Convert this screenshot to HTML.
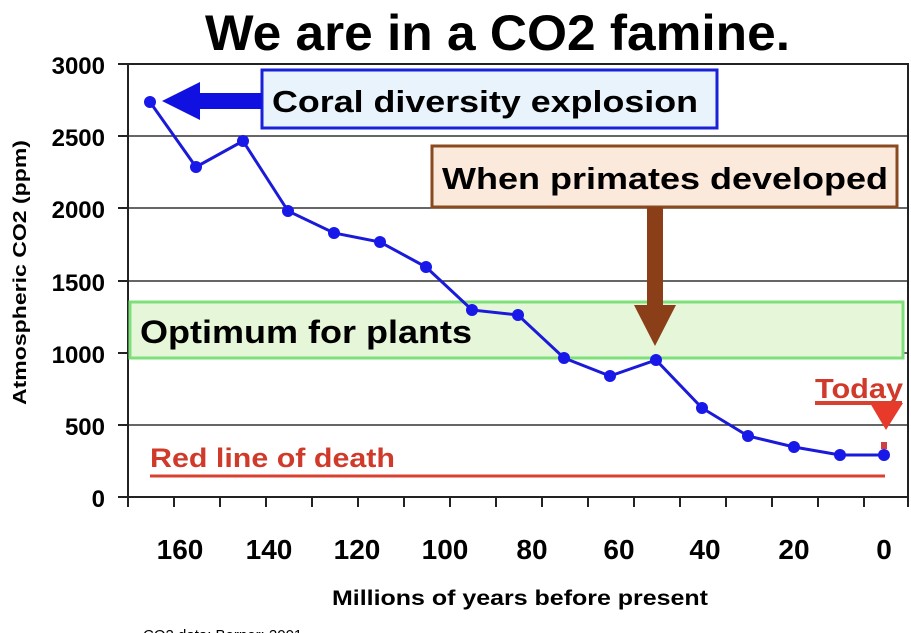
<!DOCTYPE html>
<html><head><style>body{margin:0;background:#fff}svg{display:block}text{font-family:"Liberation Sans",Arial,sans-serif}</style></head>
<body>
<svg width="911" height="633" viewBox="0 0 911 633">
<text x="205" y="50" font-size="50" font-weight="bold" textLength="585" lengthAdjust="spacingAndGlyphs">We are in a CO2 famine.</text>
<g stroke="#333" stroke-width="1.5">
<line x1="128" y1="64" x2="908" y2="64"/><line x1="128" y1="136" x2="908" y2="136"/><line x1="128" y1="208" x2="908" y2="208"/><line x1="128" y1="281" x2="908" y2="281"/><line x1="128" y1="353" x2="908" y2="353"/><line x1="128" y1="425" x2="908" y2="425"/>
</g>
<rect x="128" y="64" width="780" height="433" fill="none" stroke="#222" stroke-width="2"/>
<g stroke="#222" stroke-width="2">
<line x1="118" y1="64" x2="128" y2="64"/><line x1="118" y1="136" x2="128" y2="136"/><line x1="118" y1="208" x2="128" y2="208"/><line x1="118" y1="281" x2="128" y2="281"/><line x1="118" y1="353" x2="128" y2="353"/><line x1="118" y1="425" x2="128" y2="425"/><line x1="118" y1="497" x2="128" y2="497"/>
<line x1="128" y1="497" x2="128" y2="507"/><line x1="174" y1="497" x2="174" y2="507"/><line x1="220" y1="497" x2="220" y2="507"/><line x1="266" y1="497" x2="266" y2="507"/><line x1="312" y1="497" x2="312" y2="507"/><line x1="358" y1="497" x2="358" y2="507"/><line x1="404" y1="497" x2="404" y2="507"/><line x1="450" y1="497" x2="450" y2="507"/><line x1="496" y1="497" x2="496" y2="507"/><line x1="542" y1="497" x2="542" y2="507"/><line x1="588" y1="497" x2="588" y2="507"/><line x1="634" y1="497" x2="634" y2="507"/><line x1="680" y1="497" x2="680" y2="507"/><line x1="726" y1="497" x2="726" y2="507"/><line x1="772" y1="497" x2="772" y2="507"/><line x1="818" y1="497" x2="818" y2="507"/><line x1="864" y1="497" x2="864" y2="507"/><line x1="908" y1="497" x2="908" y2="507"/>
</g>
<g font-size="24" font-weight="bold" text-anchor="end">
<text x="105" y="74">3000</text><text x="105" y="146">2500</text><text x="105" y="218">2000</text><text x="105" y="291">1500</text><text x="105" y="363">1000</text><text x="105" y="435">500</text><text x="105" y="507">0</text>
</g>
<g font-size="28" font-weight="bold" text-anchor="middle">
<text x="180" y="559">160</text><text x="269" y="559">140</text><text x="357" y="559">120</text><text x="445" y="559">100</text><text x="532" y="559">80</text><text x="619" y="559">60</text><text x="705" y="559">40</text><text x="794" y="559">20</text><text x="884" y="559">0</text>
</g>
<text x="332" y="605" font-size="21" font-weight="bold" textLength="376" lengthAdjust="spacingAndGlyphs">Millions of years before present</text>
<text transform="translate(26,405) rotate(-90)" font-size="18" font-weight="bold" textLength="265" lengthAdjust="spacingAndGlyphs">Atmospheric CO2 (ppm)</text>
<text x="143" y="640" font-size="15">CO2 data: Berner; 2001</text>
<rect x="130" y="302" width="773" height="56" fill="#e6f7d9" stroke="#7ee07a" stroke-width="3"/>
<text x="140" y="343" font-size="32" font-weight="bold" textLength="332" lengthAdjust="spacingAndGlyphs">Optimum for plants</text>
<line x1="150" y1="476" x2="885" y2="476" stroke="#d94030" stroke-width="3"/>
<text x="150" y="467" font-size="27" font-weight="bold" fill="#d03a2a" textLength="245" lengthAdjust="spacingAndGlyphs">Red line of death</text>
<text x="815" y="398" font-size="28" font-weight="bold" fill="#d03a2a" textLength="88" lengthAdjust="spacingAndGlyphs">Today</text>
<line x1="815" y1="403" x2="902" y2="403" stroke="#d94030" stroke-width="4"/>
<polygon points="870,403 903,403 886,430" fill="#e83a2a"/>
<rect x="881" y="442" width="6" height="7" fill="#d04040"/>
<polyline fill="none" stroke="#1a1ad8" stroke-width="3" points="150,102 196,167 243,141 288,211 334,233 380,242 426,267 472,310 518,315 564,358 610,376 656,360 702,408 748,436 794,447 840,455 884,455"/>
<g fill="#1818e8">
<circle cx="150" cy="102" r="6"/><circle cx="196" cy="167" r="6"/><circle cx="243" cy="141" r="6"/><circle cx="288" cy="211" r="6"/><circle cx="334" cy="233" r="6"/><circle cx="380" cy="242" r="6"/><circle cx="426" cy="267" r="6"/><circle cx="472" cy="310" r="6"/><circle cx="518" cy="315" r="6"/><circle cx="564" cy="358" r="6"/><circle cx="610" cy="376" r="6"/><circle cx="656" cy="360" r="6"/><circle cx="702" cy="408" r="6"/><circle cx="748" cy="436" r="6"/><circle cx="794" cy="447" r="6"/><circle cx="840" cy="455" r="6"/><circle cx="884" cy="455" r="6"/>
</g>
<rect x="262" y="70" width="455" height="58" fill="#e8f3fb" stroke="#1a22d8" stroke-width="3"/>
<text x="272" y="112" font-size="31" font-weight="bold" textLength="426" lengthAdjust="spacingAndGlyphs">Coral diversity explosion</text>
<rect x="198" y="93" width="64" height="16" fill="#1010e0"/>
<polygon points="162,101 200,82 200,120" fill="#1010e0"/>
<rect x="432" y="146" width="465" height="61" fill="#fbe9dc" stroke="#8a4a20" stroke-width="3"/>
<text x="442" y="189" font-size="31" font-weight="bold" textLength="446" lengthAdjust="spacingAndGlyphs">When primates developed</text>
<rect x="647" y="207" width="16" height="100" fill="#8b3f18"/>
<polygon points="634,305 676,305 655,346" fill="#8b3f18"/>
</svg>
</body></html>
